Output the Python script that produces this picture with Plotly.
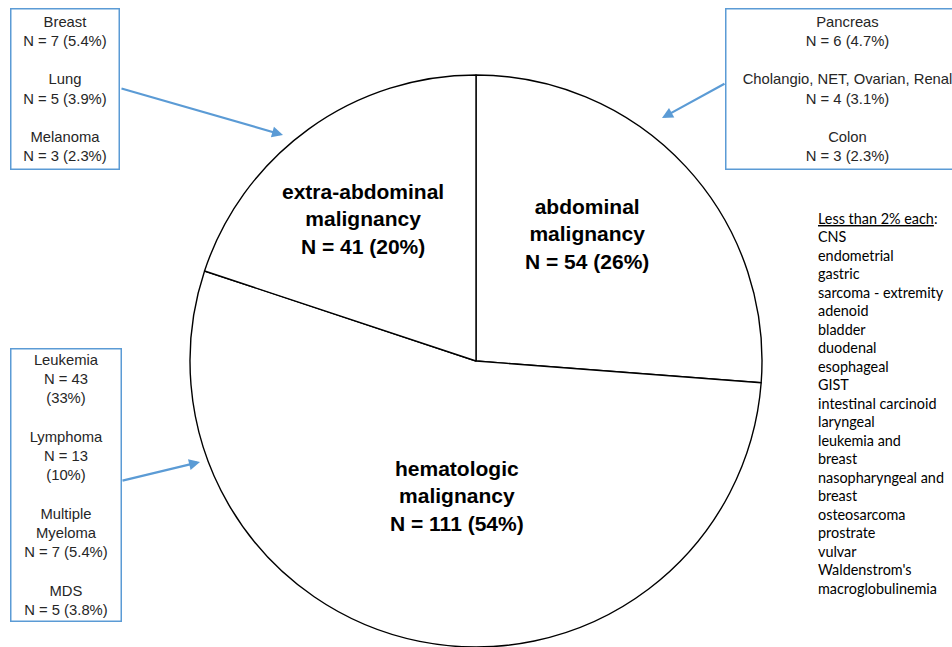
import plotly.graph_objects as go

W, H = 952, 647
T = 75  # top margin; plot area fills the rest

# main groups (clockwise from 12 o'clock)
groups = ["abdominal malignancy", "hematologic malignancy", "extra-abdominal malignancy"]
counts = [54, 111, 41]
group_labels = [
    "abdominal<br>malignancy<br>N = 54 (26%)",
    "hematologic<br>malignancy<br>N = 111 (54%)",
    "extra-abdominal<br>malignancy<br>N = 41 (20%)",
]
label_pos = [(587, 234), (457, 496), (363, 219)]  # pixel centres

extra_names = ["Breast", "Lung", "Melanoma"]
extra_text = ["N = 7 (5.4%)", "N = 5 (3.9%)", "N = 3 (2.3%)"]
abd_names = ["Pancreas", "Cholangio, NET, Ovarian, Renal", "Colon"]
abd_text = ["N = 6 (4.7%)", "N = 4 (3.1%)", "N = 3 (2.3%)"]
hem_names = ["Leukemia", "Lymphoma", "Multiple<br>Myeloma", "MDS"]
hem_text = ["N = 43<br>(33%)", "N = 13<br>(10%)", "N = 7 (5.4%)", "N = 5 (3.8%)"]

small_title = "<u>Less than 2% each</u>:"
small = ["CNS", "endometrial", "gastric", "sarcoma - extremity", "adenoid", "bladder",
         "duodenal", "esophageal", "GIST", "intestinal carcinoid", "laryngeal",
         "leukemia and", "breast", "nasopharyngeal and", "breast", "osteosarcoma",
         "prostrate", "vulvar", "Waldenstrom's", "macroglobulinemia"]

BLUE = "#5b9bd5"

fig = go.Figure(go.Pie(
    labels=groups, values=counts, sort=False, direction="clockwise", rotation=0,
    marker=dict(colors=["white"] * 3, line=dict(color="black", width=1.4)),
    textinfo="none", hoverinfo="label+value+percent", showlegend=False,
    domain=dict(x=[0.1, 0.9], y=[0, 1]),
))


def px(x):
    return x / W


def py(y):
    # paper coords are relative to the plot area (below the top margin)
    return 1 - (y - T) / (H - T)


annos = []
for txt, (cx, cy) in zip(group_labels, label_pos):
    annos.append(dict(x=px(cx), y=py(cy), xref="paper", yref="paper", text="<b>" + txt + "</b>",
                      showarrow=False, font=dict(size=21, color="black", family="Liberation Sans, Arial"),
                      xanchor="center", yanchor="middle"))


def box(names, vals, x0, y0, w, h):
    txt = "<br><br>".join(n + "<br>" + v for n, v in zip(names, vals))
    return dict(x=px(x0), y=py(y0), xref="paper", yref="paper", text=txt, showarrow=False,
                xanchor="left", yanchor="top", width=w, height=h, align="center", valign="middle",
                bordercolor=BLUE, borderwidth=1.5, borderpad=0, bgcolor="white",
                font=dict(size=14.8, color="#262626", family="Liberation Sans, Arial"))


annos.append(box(extra_names, extra_text, 10, 8, 107, 159))
annos.append(box(abd_names, abd_text, 725, 8, 242, 159))
annos.append(box(hem_names, hem_text, 10, 348, 109, 271))

# arrows: (tail, head) in pixels
arrows = [((120, 88), (283, 135)), ((726, 83), (662, 118)), ((121, 481), (200, 462))]
for (tx, ty), (hx, hy) in arrows:
    annos.append(dict(x=px(hx), y=py(hy), xref="paper", yref="paper", text="", showarrow=True,
                      ax=tx - hx, ay=ty - hy, arrowhead=2, arrowsize=1, arrowwidth=2.2,
                      arrowcolor=BLUE, standoff=0))

for i, line in enumerate([small_title] + small):
    annos.append(dict(x=px(816), y=py(218 + i * 18.5), xref="paper", yref="paper", showarrow=False,
                      text=line, xanchor="left", yanchor="middle", align="left",
                      font=dict(size=14.4, color="black", family="Lato, Carlito, sans-serif")))

fig.update_layout(
    width=W, height=H, margin=dict(l=0, r=0, t=T, b=0),
    paper_bgcolor="white", plot_bgcolor="white",
    annotations=annos,
)

fig.write_html("out.html", config={"displayModeBar": False},
               post_script="document.body.style.margin='0';")
